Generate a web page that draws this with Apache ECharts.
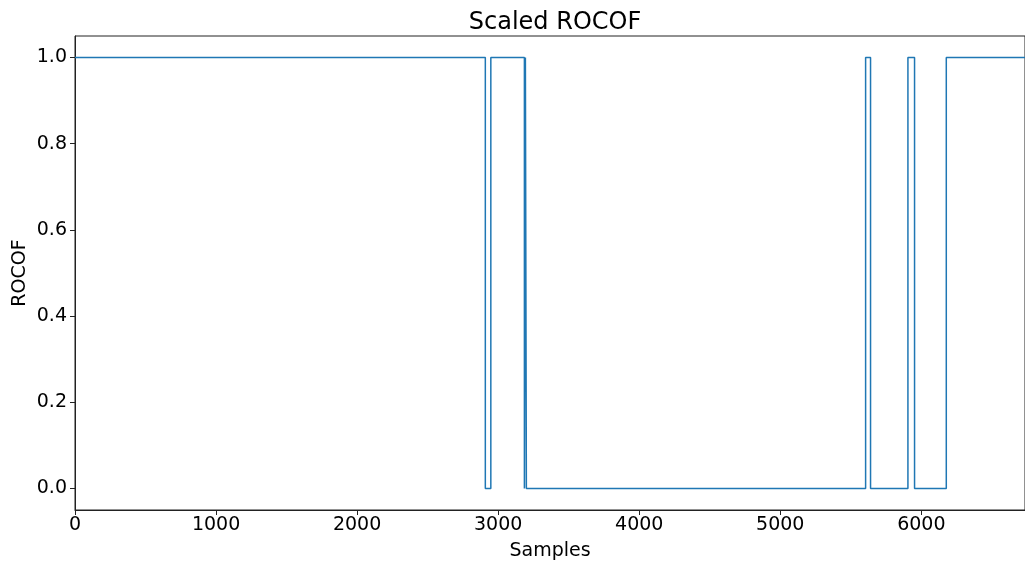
<!DOCTYPE html>
<html>
<head>
<meta charset="utf-8">
<title>Scaled ROCOF</title>
<script src="https://cdn.jsdelivr.net/npm/echarts@6/dist/echarts.min.js"></script>
<style>
  html, body { margin: 0; padding: 0; background: #fff; }
  #chart { width: 1025px; height: 565px; }
</style>
</head>
<body>
<div id="chart"></div>
<script>
// Breakpoints of the scaled ROCOF flag: each value holds until the next sample index.
const sampleIdx = [0, 2909, 2948, 3186, 3193, 3200, 5605, 5640, 5905, 5952, 6177, 6735];
const rocof     = [1,    0,    1,    0,    1,    0,    1,    0,    1,    0,    1,    1];
const xTicks = [0, 1000, 2000, 3000, 4000, 5000, 6000];
const yTicks = [0, 0.2, 0.4, 0.6, 0.8, 1.0];

const points = sampleIdx.map((s, i) => [s, rocof[i]]);
const font = 'DejaVu Sans';

const chart = echarts.init(document.getElementById('chart'), null, { renderer: 'canvas' });
chart.setOption({
  animation: false,
  backgroundColor: '#fff',
  title: {
    text: 'Scaled ROCOF',
    left: 550, top: 6, textAlign: 'center',
    textStyle: { fontFamily: font, fontSize: 24, fontWeight: 'normal', color: '#000' }
  },
  grid: {
    left: 75, right: 0, top: 36, bottom: 55,
    containLabel: false, outerBoundsMode: 'none',
    show: true, borderColor: '#222', borderWidth: 1, backgroundColor: 'transparent'
  },
  xAxis: {
    type: 'value', min: 0, max: 6735,
    name: 'Samples', nameLocation: 'middle', nameGap: 32, nameMoveOverlap: false,
    nameTextStyle: { fontFamily: font, fontSize: 19, color: '#000' },
    axisLine: { show: true, onZero: false, lineStyle: { color: '#222', width: 1 } },
    axisTick: { show: true, length: 5, lineStyle: { color: '#222' }, customValues: xTicks },
    axisLabel: { fontFamily: font, fontSize: 19, color: '#000', margin: 6,
                 customValues: xTicks, formatter: v => String(v) },
    splitLine: { show: false }
  },
  yAxis: {
    type: 'value', min: -0.05, max: 1.05,
    name: 'ROCOF', nameLocation: 'middle', nameGap: 45, nameMoveOverlap: false,
    nameTextStyle: { fontFamily: font, fontSize: 19, color: '#000' },
    axisLine: { show: true, lineStyle: { color: '#222', width: 1 } },
    axisTick: { show: true, length: 5, lineStyle: { color: '#222' }, customValues: yTicks },
    axisLabel: { fontFamily: font, fontSize: 19, color: '#000', margin: 8,
                 customValues: yTicks, formatter: v => v.toFixed(1) },
    splitLine: { show: false }
  },
  series: [{
    type: 'line', step: 'end', data: points,
    showSymbol: false, clip: true,
    lineStyle: { color: '#1f77b4', width: 1.5 }
  }]
});
</script>
</body>
</html>
